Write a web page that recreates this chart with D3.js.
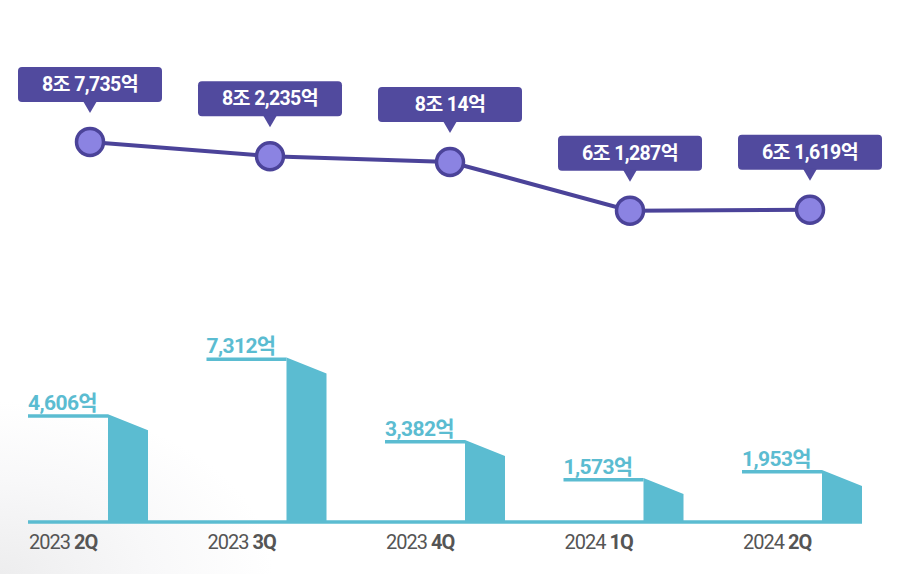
<!DOCTYPE html>
<html>
<head>
<meta charset="utf-8">
<script src="https://cdn.jsdelivr.net/npm/d3@7"></script>
<style>
  html, body { margin: 0; padding: 0; background: #ffffff; }
  svg { display: block; }
</style>
</head>
<body>
<svg id="chart" width="911" height="574"></svg>
<script>
// ---- data (억원) ----
const quarters = ["2023 2Q", "2023 3Q", "2023 4Q", "2024 1Q", "2024 2Q"];
const revenue = [87735, 82235, 80014, 61287, 61619];   // line series
const profit = [4606, 7312, 3382, 1573, 1953];          // bar series

const W = 911, H = 574;
const svg = d3.select("#chart");
const fontNum = "Roboto, 'Noto Sans CJK KR', sans-serif";

// faint background decoration (lower-left)
const defs = svg.append("defs");
const rg = defs.append("radialGradient").attr("id", "bgGrad")
  .attr("cx", "0%").attr("cy", "100%").attr("r", "30%");
rg.append("stop").attr("offset", "0%").attr("stop-color", "#ededee");
rg.append("stop").attr("offset", "55%").attr("stop-color", "#f8f8f9");
rg.append("stop").attr("offset", "100%").attr("stop-color", "#ffffff");
svg.append("rect").attr("width", W).attr("height", H).attr("fill", "url(#bgGrad)");

const fmt = d3.format(",");
const revLabel = v => `${Math.floor(v / 10000)}조 ${fmt(v % 10000)}억`;
const profLabel = v => `${fmt(v)}억`;

// ---- line (revenue) ----
const xLine = d3.scalePoint().domain(quarters).range([90, 810]);
const yLine = d3.scaleLinear().domain([60000, 90000]).range([214, 136]);

const lineColor = "#4b4399";
const boxColor = "#514a9e";

svg.append("path")
  .datum(quarters.map((q, i) => [xLine(q), yLine(revenue[i])]))
  .attr("d", d3.line())
  .attr("fill", "none")
  .attr("stroke", lineColor)
  .attr("stroke-width", 4);

const pts = svg.append("g").selectAll("g").data(quarters).join("g")
  .attr("transform", (q, i) => `translate(${xLine(q)},${yLine(revenue[i])})`);

pts.append("circle")
  .attr("r", 13.5)
  .attr("fill", "#8b83e2")
  .attr("stroke", lineColor)
  .attr("stroke-width", 3.5);

const boxW = 144, boxH = 35;
pts.append("rect")
  .attr("x", -boxW / 2).attr("y", -75)
  .attr("width", boxW).attr("height", boxH)
  .attr("rx", 4)
  .attr("fill", boxColor);
pts.append("path")
  .attr("d", "M-7,-41 L7,-41 L0,-29 Z")
  .attr("fill", boxColor);
pts.append("text")
  .attr("x", 0).attr("y", -51)
  .attr("text-anchor", "middle")
  .attr("fill", "#ffffff")
  .attr("font-family", fontNum)
  .attr("font-weight", 700)
  .attr("font-size", 19.5)
  .attr("letter-spacing", -0.6)
  .text((q, i) => revLabel(revenue[i]));

// ---- bars (profit) ----
const barColor = "#5bbcd1";
const xBar = d3.scalePoint().domain(quarters).range([28, 742]);
const yBar = d3.scaleLinear().domain([0, 8000]).range([512.7, 344.7]);
const baseY = 522;
const lineLen = 80, barW = 40, drop = 16;

svg.append("line")
  .attr("x1", xBar(quarters[0])).attr("x2", xBar(quarters[quarters.length - 1]) + lineLen + barW)
  .attr("y1", baseY).attr("y2", baseY)
  .attr("stroke", barColor).attr("stroke-width", 3.5);

const bars = svg.append("g").selectAll("g").data(quarters).join("g");

bars.append("line")
  .attr("x1", q => xBar(q))
  .attr("x2", q => xBar(q) + lineLen)
  .attr("y1", (q, i) => yBar(profit[i]))
  .attr("y2", (q, i) => yBar(profit[i]))
  .attr("stroke", barColor).attr("stroke-width", 3.5);

bars.append("path")
  .attr("d", (q, i) => {
    const x0 = xBar(q) + lineLen, x1 = x0 + barW, t = yBar(profit[i]) - 1.75;
    return `M${x0},${t} L${x1},${t + drop} L${x1},${baseY} L${x0},${baseY} Z`;
  })
  .attr("fill", barColor);

bars.append("text")
  .attr("x", q => xBar(q))
  .attr("y", (q, i) => yBar(profit[i]) - 6)
  .attr("fill", barColor)
  .attr("font-family", fontNum)
  .attr("font-weight", 700)
  .attr("font-size", 21)
  .attr("letter-spacing", -0.6)
  .text((q, i) => profLabel(profit[i]));

const xl = bars.append("text")
  .attr("x", q => xBar(q) + 1)
  .attr("y", 549)
  .attr("fill", "#555555")
  .attr("font-family", fontNum)
  .attr("font-size", 20)
  .attr("letter-spacing", -1);
xl.append("tspan").attr("font-weight", 400).text(q => q.split(" ")[0] + " ");
xl.append("tspan").attr("font-weight", 700).text(q => q.split(" ")[1]);
</script>
</body>
</html>
